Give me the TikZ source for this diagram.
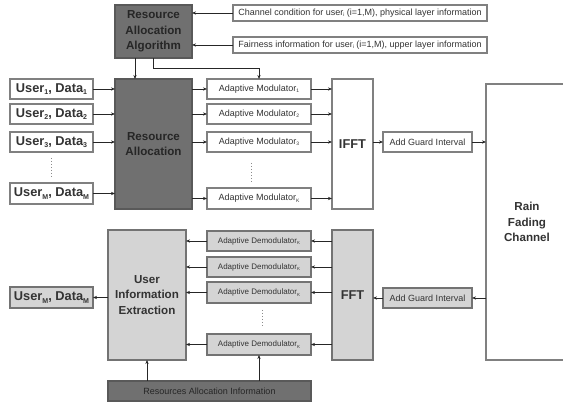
\documentclass[tikz,border=0pt]{standalone}
\usepackage{fontspec}
\setmainfont{Liberation Sans}
\usetikzlibrary{arrows.meta}
\newcommand\mybox[7]{\node[#2,minimum width={#5-#3},minimum height={#6-#4}] (#1) at ({(#3+#5)/2},{(#4+#6)/2}) {#7};}
\newcommand\sbs[1]{\raisebox{-0.35ex}{\scalebox{0.55}{#1}}}
\begin{document}
\begin{tikzpicture}[x=1pt,y=-1pt,
  base/.style={draw=black!50,line width=1.1pt,inner sep=0pt,outer sep=0pt,align=center,text=black!80},
  whitebox/.style={base,fill=white},
  darkbox/.style={base,fill=black!56,draw=black!65,text=black!85},
  lightbox/.style={base,fill=black!17,draw=black!55},
  small/.style={font=\fontsize{9}{10}\selectfont},
  tiny/.style={font=\fontsize{8}{9}\selectfont},
  big/.style={font=\fontsize{11.6}{15.5}\selectfont\bfseries},
  fftfont/.style={font=\fontsize{12.8}{15}\selectfont\bfseries},
  user/.style={font=\fontsize{12.8}{14}\selectfont\bfseries},
  arr/.style={draw=black!85,line width=0.8pt,-{Stealth[length=4pt,width=3.2pt]}},
  dots/.style={draw=black!45,line width=1pt,dotted}]
\clip (0,0) rectangle (563,403);
\fill[white] (0,0) rectangle (563,403);
% transmitter
\mybox{raa}{darkbox,big}{115}{5}{192}{58}{Resource\\Allocation\\Algorithm}
\mybox{ch}{whitebox,small}{233}{5}{487}{21}{Channel condition for user\sbs{i} (i=1,M), physical layer information}
\mybox{fair}{whitebox,small}{233}{37}{487}{53}{Fairness information for user\sbs{i} (i=1,M), upper layer information}
\mybox{ra}{darkbox,big}{115}{79}{192}{209}{Resource\\Allocation}
\mybox{u1}{whitebox,user}{10}{79}{93}{99}{User\sbs{1}, Data\sbs{1}}
\mybox{u2}{whitebox,user}{10}{104}{93}{124}{User\sbs{2}, Data\sbs{2}}
\mybox{u3}{whitebox,user}{10}{132}{93}{152}{User\sbs{3}, Data\sbs{3}}
\mybox{uM}{whitebox,user}{10}{183}{93}{204}{User\sbs{M}, Data\sbs{M}}
\mybox{am1}{whitebox,small}{207}{79}{311}{99}{Adaptive Modulator\sbs{1}}
\mybox{am2}{whitebox,small}{207}{104}{311}{124}{Adaptive Modulator\sbs{2}}
\mybox{am3}{whitebox,small}{207}{132}{311}{152}{Adaptive Modulator\sbs{3}}
\mybox{amK}{whitebox,small}{207}{188}{311}{209}{Adaptive Modulator\sbs{K}}
\mybox{ifft}{whitebox,fftfont}{332}{79}{373}{209}{IFFT}
\mybox{agt}{whitebox,small}{383}{132}{472}{152}{Add Guard Interval}
\mybox{rain}{whitebox,big}{486}{84}{568}{360}{Rain\\Fading\\Channel}
% receiver
\mybox{uie}{lightbox,big}{108}{230}{186}{360}{User\\Information\\Extraction}
\mybox{ad1}{lightbox,tiny}{207}{231}{311}{251}{Adaptive Demodulator\sbs{K}}
\mybox{ad2}{lightbox,tiny}{207}{257}{311}{277}{Adaptive Demodulator\sbs{K}}
\mybox{ad3}{lightbox,tiny}{207}{282}{311}{303}{Adaptive Demodulator\sbs{K}}
\mybox{adK}{lightbox,tiny}{207}{334}{311}{355}{Adaptive Demodulator\sbs{K}}
\mybox{fft}{lightbox,fftfont}{332}{230}{373}{360}{FFT}
\mybox{agr}{lightbox,small}{383}{288}{472}{308}{Add Guard Interval}
\mybox{uout}{lightbox,user}{10}{287}{93}{308}{User\sbs{M}, Data\sbs{M}}
\mybox{rai}{darkbox,small}{108}{381}{311}{401}{Resources Allocation Information}
% connectors (transmitter)
\draw[arr] (ch.west) -- (ch.west -| raa.east);
\draw[arr] (fair.west) -- (fair.west -| raa.east);
\draw[arr] ([xshift=20pt]raa.south west) -- ([xshift=20pt]ra.north west);
\draw[arr] ([xshift=38pt]raa.south west) -- ++(0,10) -| (am1.north);
\foreach \u in {u1,u2,u3,uM}{\draw[arr] (\u.east) -- (\u.east -| ra.west);}
\foreach \a in {am1,am2,am3,amK}{
  \draw[arr] (\a.west -| ra.east) -- (\a.west);
  \draw[arr] (\a.east) -- (\a.east -| ifft.west);}
\draw[arr] (agt.west -| ifft.east) -- (agt.west);
\draw[arr] (agt.east) -- (agt.east -| rain.west);
% connectors (receiver)
\draw[arr] (agr.east -| rain.west) -- (agr.east);
\draw[arr] (agr.west) -- (agr.west -| fft.east);
\foreach \d in {ad1,ad2,ad3,adK}{
  \draw[arr] (\d.east -| fft.west) -- (\d.east);
  \draw[arr] (\d.west) -- (\d.west -| uie.east);}
\draw[arr] (uout.east -| uie.west) -- (uout.east);
\draw[arr] (rai.north -| uie.south) -- (uie.south);
\draw[arr] (rai.north -| adK.south) -- (adK.south);
% dots
\draw[dots] ([yshift=-6pt]u3.south) -- ([yshift=6pt]uM.north);
\draw[dots] ([xshift=-8pt,yshift=-11pt]am3.south) -- ([xshift=-8pt,yshift=6pt]amK.north);
\draw[dots] ([xshift=3pt,yshift=-7pt]ad3.south) -- ([xshift=3pt,yshift=7pt]adK.north);
\end{tikzpicture}
\end{document}
